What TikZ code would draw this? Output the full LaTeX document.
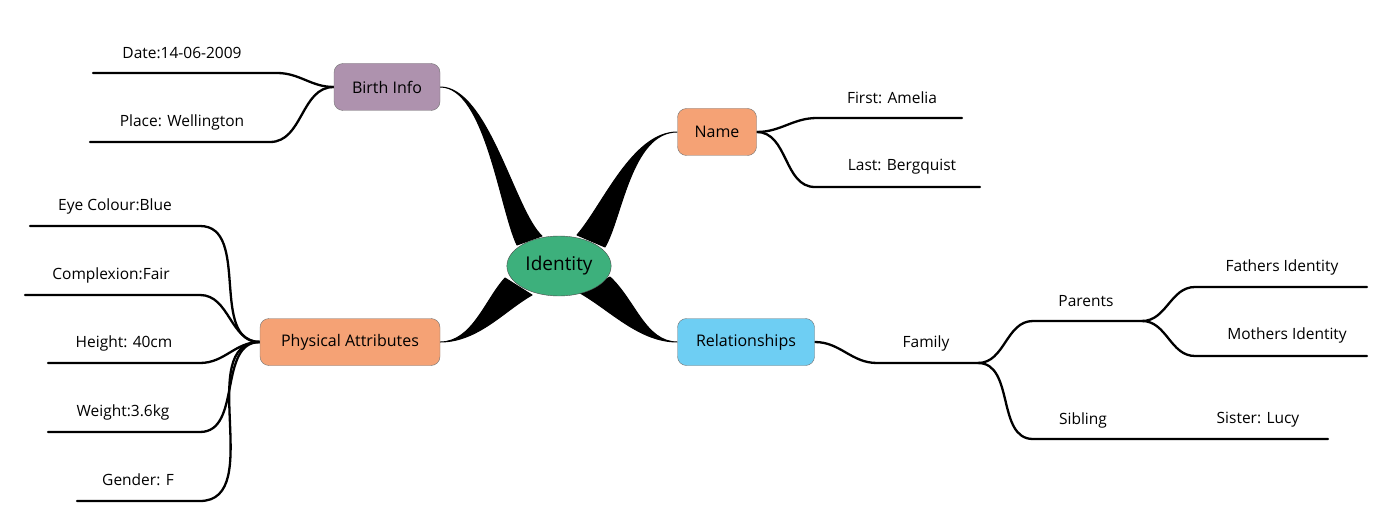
\documentclass[tikz,border=0pt]{standalone}
\usepackage{fontspec}
\setmainfont{Open Sans}
\usepackage{tikz}
\usetikzlibrary{calc,shapes.geometric,backgrounds}

\definecolor{idgreen}{HTML}{3DB07C}
\definecolor{birthpurple}{HTML}{AE92AE}
\definecolor{topicorange}{HTML}{F5A275}
\definecolor{relblue}{HTML}{6ECEF3}

\begin{document}
\begin{tikzpicture}[x=1pt,y=-1pt,
  topic/.style={draw=black!55,rounded corners=9pt,minimum height=47pt,inner sep=2pt,font=\fontsize{16}{18}\selectfont},
  leaf/.style={inner sep=0pt,font=\fontsize{15.5}{18}\selectfont},
  branch/.style={line width=2.3pt,line cap=round},
  trunk/.style={line width=1pt,line join=round}]

\useasboundingbox (0,0) rectangle (1400,532);

% main topics
\node [ellipse,draw=black!70,fill=idgreen,minimum width=104pt,minimum height=60pt,font=\fontsize{19}{22}\selectfont] (identity) at (559,266) {Identity};
\node [topic,fill=birthpurple,minimum width=106pt] (birth) at (387,87) {Birth Info};
\node [topic,fill=topicorange,minimum width=79pt] (name) at (717,132) {Name};
\node [topic,fill=topicorange,minimum width=180pt] (physical) at (350,342) {Physical Attributes};
\node [topic,fill=relblue,minimum width=137pt] (relations) at (746,342) {Relationships};

% leaves
\node [leaf] (date) at (182,53) {Date:14-06-2009};
\node [leaf] (place) at (182,122) {Place: Wellington};
\node [leaf] (first) at (892,98) {First: Amelia};
\node [leaf] (last) at (902,167) {Last: Bergquist};
\node [leaf] (eye) at (115,206) {Eye Colour:Blue};
\node [leaf] (complexion) at (111,275) {Complexion:Fair};
\node [leaf] (height) at (124,343) {Height: 40cm};
\node [leaf] (weight) at (123,412) {Weight:3.6kg};
\node [leaf] (gender) at (138,480) {Gender: F};
\node [leaf] (family) at (926,343) {Family};
\node [leaf] (parents) at (1086,301) {Parents};
\node [leaf] (father) at (1282,267) {Fathers Identity};
\node [leaf] (mother) at (1287,335) {Mothers Identity};
\node [leaf] (sibling) at (1083,420) {Sibling};
\node [leaf] (lucy) at (1258,420) {Sister: Lucy};

\coordinate [] (date-a) at (93,73);
\coordinate [] (date-b) at (277,73);
\coordinate [] (place-a) at (90,142);
\coordinate [] (place-b) at (270,142);
\coordinate [] (first-a) at (817,118);
\coordinate [] (first-b) at (962,118);
\coordinate [] (last-a) at (815,187);
\coordinate [] (last-b) at (980,187);
\coordinate [] (eye-a) at (30,226);
\coordinate [] (eye-b) at (200,226);
\coordinate [] (complexion-a) at (25,295);
\coordinate [] (complexion-b) at (200,295);
\coordinate [] (height-a) at (48,363);
\coordinate [] (height-b) at (200,363);
\coordinate [] (weight-a) at (48,432);
\coordinate [] (weight-b) at (200,432);
\coordinate [] (gender-a) at (77,501);
\coordinate [] (gender-b) at (200,501);
\coordinate [] (family-a) at (877,363);
\coordinate [] (family-b) at (978,363);
\coordinate [] (parents-a) at (1033,321);
\coordinate [] (parents-b) at (1142,321);
\coordinate [] (father-a) at (1195,287);
\coordinate [] (father-b) at (1367,287);
\coordinate [] (mother-a) at (1195,356);
\coordinate [] (mother-b) at (1367,356);
\coordinate [] (sibling-a) at (1033,439);
\coordinate [] (lucy-b) at (1328,439);

\begin{scope}[on background layer]
% thick branches from the centre
\filldraw [trunk] (birth.east) .. controls +(45,0) and +(-17,-35) .. ($(identity)+(-42,-21)$)
  -- ($(identity)+(-17,-30)$) .. controls +(-27,-24) and +(48,0) .. (birth.east);
\filldraw [trunk] (name.west) .. controls +(-45,0) and +(26,-30) .. ($(identity)+(18,-31)$)
  -- ($(identity)+(46,-19)$) .. controls +(17,-29) and +(-46,0) .. (name.west);
\filldraw [trunk] (physical.east) .. controls +(32,0) and +(-20,22) .. ($(identity)+(-54,12)$)
  -- ($(identity)+(-27,29)$) .. controls +(-27,15) and +(38,0) .. (physical.east);
\filldraw [trunk] (relations.west) .. controls +(-32,0) and +(25,23) .. ($(identity)+(51,11)$)
  -- ($(identity)+(21,27)$) .. controls +(30,17) and +(-38,0) .. (relations.west);

% thin branches
\draw [branch] (date-a) -- (date-b) to[out=0,in=180] (birth.west);
\draw [branch] (place-a) -- (place-b) to[out=0,in=180] (birth.west);
\draw [branch] (first-b) -- (first-a) to[out=180,in=0] (name.east);
\draw [branch] (last-b) -- (last-a) to[out=180,in=0] (name.east);
\foreach \leaf in {eye,complexion,height,weight,gender}
  \draw [branch] (\leaf-a) -- (\leaf-b) to[out=0,in=180] (physical.west);
\draw [branch] (relations.east) to[out=0,in=180] (family-a) -- (family-b);
\draw [branch] (family-b) to[out=0,in=180] (parents-a) -- (parents-b);
\draw [branch] (family-b) to[out=0,in=180] (sibling-a) -- (lucy-b);
\draw [branch] (parents-b) to[out=0,in=180] (father-a) -- (father-b);
\draw [branch] (parents-b) to[out=0,in=180] (mother-a) -- (mother-b);
\end{scope}

\end{tikzpicture}
\end{document}
